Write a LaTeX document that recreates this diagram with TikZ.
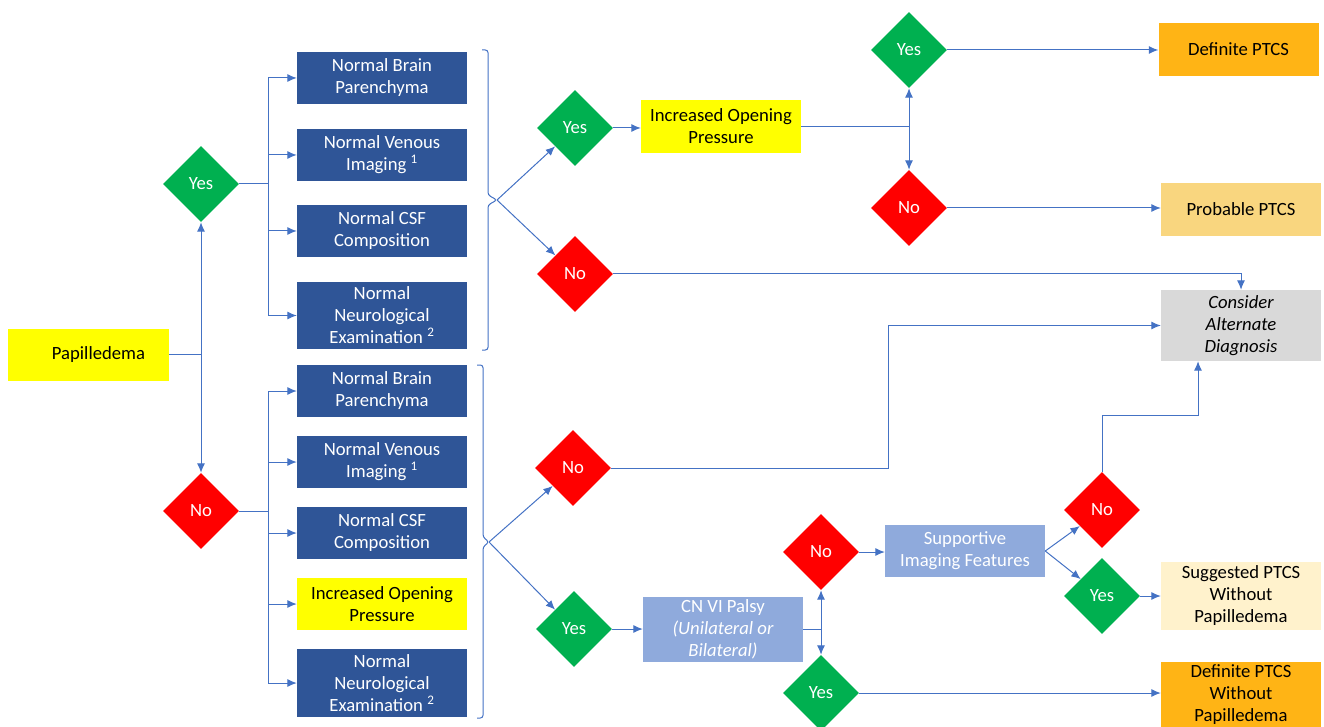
\documentclass[tikz,border=0pt]{standalone}
\usepackage{fontspec}
\setmainfont{Carlito}
\usepackage{tikz}
\usetikzlibrary{arrows.meta,shapes.geometric}

\definecolor{navy}{HTML}{2F5597}
\definecolor{paleblue}{HTML}{8FAADC}
\definecolor{dgreen}{HTML}{00B050}
\definecolor{dred}{HTML}{FF0000}
\definecolor{ylw}{HTML}{FFFF00}
\definecolor{amber}{HTML}{FFB415}
\definecolor{sand}{HTML}{F9D67F}
\definecolor{cream}{HTML}{FFF2CC}
\definecolor{lgrey}{HTML}{D9D9D9}
\definecolor{wire}{HTML}{4472C4}

\begin{document}
\begin{tikzpicture}[x=0.75pt,y=-0.75pt,
  every node/.style={font=\fontsize{14}{16.5}\selectfont,align=center,inner sep=0pt},
  navybox/.style={rectangle,fill=navy,text=white,minimum width=127.5pt,minimum height=39pt},
  ylwbox/.style={rectangle,fill=ylw,minimum width=127.5pt,minimum height=39pt},
  endbox/.style={rectangle,minimum width=120pt,minimum height=39.75pt},
  lbbox/.style={rectangle,fill=paleblue,text=white,minimum width=120pt,minimum height=39pt},
  yesdec/.style={diamond,aspect=1,fill=dgreen,text=white,minimum width=57pt,minimum height=57pt},
  nodec/.style={diamond,aspect=1,fill=dred,text=white,minimum width=57pt,minimum height=57pt},
  link/.style={draw=wire,line width=0.75pt},
  arr/.style={link,-{Latex[length=7pt,width=6pt]}}]
\useasboundingbox (0,0) rectangle (1324,727);

% start
\node (pap) at (88.5,354.5) [ylwbox,minimum width=120.75pt] {\hspace{15pt}Papilledema};
\node (yes1) at (201,184) [yesdec] {Yes};
\node (no1) at (201,511) [nodec] {No};

% with papilledema
\node (a1) at (382,78) [navybox] {Normal Brain\\Parenchyma};
\node (a2) at (382,155) [navybox] {Normal Venous\\Imaging \textsuperscript{1}};
\node (a3) at (382,231) [navybox] {Normal CSF\\Composition};
\node (a4) at (382,315.5) [navybox,minimum height=50.25pt] {Normal\\Neurological\\Examination \textsuperscript{2}};

% without papilledema
\node (b1) at (382,391) [navybox] {Normal Brain\\Parenchyma};
\node (b2) at (382,462) [navybox] {Normal Venous\\Imaging \textsuperscript{1}};
\node (b3) at (382,533) [navybox] {Normal CSF\\Composition};
\node (b4) at (382,604) [ylwbox] {Increased Opening\\Pressure};
\node (b5) at (382,683) [navybox,minimum height=51pt] {Normal\\Neurological\\Examination \textsuperscript{2}};

% upper branch
\node (yes2) at (575,128) [yesdec] {Yes};
\node (no2) at (575,274) [nodec] {No};
\node (iop) at (721,126.5) [ylwbox,minimum width=120pt,minimum height=39.75pt] {Increased Opening\\Pressure};
\node (yes3) at (909,50) [yesdec] {Yes};
\node (no3) at (909,208) [nodec] {No};
\node (def) at (1238.5,49.5) [endbox,fill=amber] {Definite PTCS};
\node (prob) at (1241,209.5) [endbox,fill=sand] {Probable PTCS};
\node (cons) at (1241,325.5) [endbox,fill=lgrey,minimum height=53.25pt] {\itshape Consider\\\itshape Alternate\\\itshape Diagnosis};

% lower branch
\node (no4) at (573,468) [nodec] {No};
\node (yes4) at (574,629) [yesdec] {Yes};
\node (cn) at (723,629.5) [lbbox,minimum height=48.75pt] {CN VI Palsy\\\itshape (Unilateral or\\\itshape Bilateral)};
\node (no5) at (821,552) [nodec] {No};
\node (yes5) at (821,693) [yesdec] {Yes};
\node (sup) at (965,551) [lbbox] {Supportive\\Imaging Features};
\node (no6) at (1102,510) [nodec] {No};
\node (yes6) at (1102,596) [yesdec] {Yes};
\node (sugg) at (1241,596) [endbox,fill=cream,minimum height=51pt] {Suggested PTCS\\Without\\Papilledema};
\node (defw) at (1241,695) [endbox,fill=amber,minimum height=49.5pt] {Definite PTCS\\Without\\Papilledema};

% braces
\draw[link,rounded corners=2pt] (482,50) -- (488,50) -- (488,195) -- (497,200) -- (488,205) -- (488,350) -- (482,350);
\draw[link,rounded corners=2pt] (477,365) -- (483,365) -- (483,537) -- (489,542) -- (483,547) -- (483,718) -- (477,718);
\coordinate (tipA) at (497,200);
\coordinate (tipB) at (489,542);

% connectors
\coordinate (jP) at (201,354.5);
\draw[link] (pap) -- (jP);
\draw[arr] (jP) -- (yes1);
\draw[arr] (jP) -- (no1);

\coordinate (jA) at (268,184);
\draw[link] (yes1) -- (jA);
\draw[link] (jA |- a1) -- (jA |- a4);
\foreach \n in {a1,a2,a3,a4}
  \draw[arr] (jA |- \n) -- (\n);

\coordinate (jB) at (268,511);
\draw[link] (no1) -- (jB);
\draw[link] (jB |- b1) -- (jB |- b5);
\foreach \n in {b1,b2,b3,b4,b5}
  \draw[arr] (jB |- \n) -- (\n);

\draw[arr] (tipA) -- (yes2);
\draw[arr] (tipA) -- (no2);
\draw[arr] (yes2) -- (yes2 -| iop.west);
\coordinate (jC) at (909,126.5);
\draw[link] (iop) -- (jC);
\draw[arr] (jC) -- (yes3);
\draw[arr] (jC) -- (no3);
\draw[arr] (yes3) -- (yes3 -| def.west);
\draw[arr] (no3) -- (no3 -| prob.west);
\draw[arr] (no2) -| (cons);

\draw[arr] (tipB) -- (no4);
\draw[arr] (tipB) -- (yes4);
\draw[arr] (no4) -- (888,468) |- (cons);
\draw[arr] (yes4) -- (yes4 -| cn.west);
\coordinate (jD) at (821,629.5);
\draw[link] (cn) -- (jD);
\draw[arr] (jD) -- (no5);
\draw[arr] (jD) -- (yes5);
\draw[arr] (no5) -- (no5 -| sup.west);
\draw[arr] (sup.east) -- (no6);
\draw[arr] (sup.east) -- (yes6);
\coordinate (jE) at (1198,415);
\draw[arr] (no6) |- (jE) -- (jE |- cons.south);
\draw[arr] (yes6) -- (sugg);
\draw[arr] (yes5) -- (yes5 -| defw.west);
\end{tikzpicture}
\end{document}
